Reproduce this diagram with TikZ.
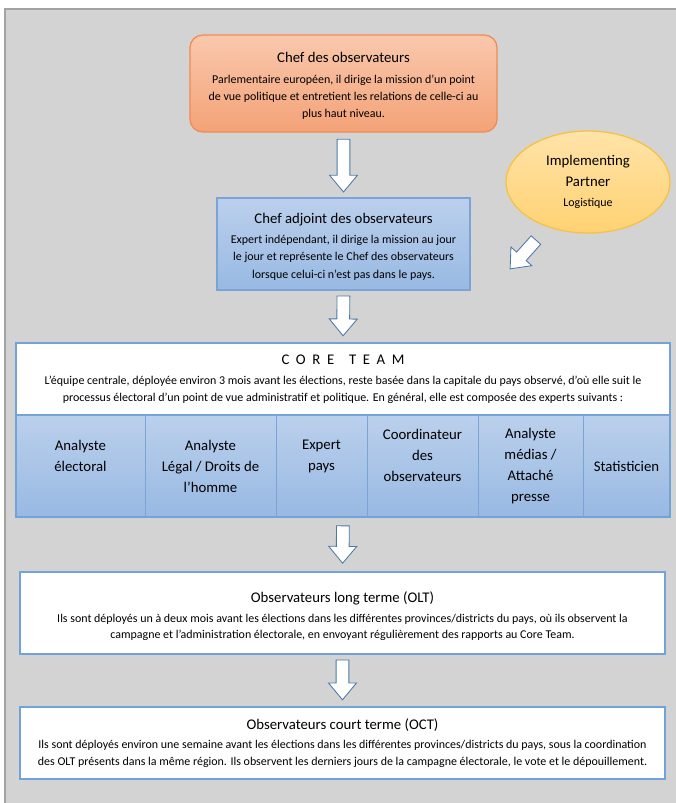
\documentclass[tikz,border=0pt]{standalone}
\usepackage{fontspec}
\setmainfont{Carlito}
\usetikzlibrary{
	shapes.geometric,
	positioning,
	calc
}
\definecolor{panelgray}{HTML}{D3D3D3}
\definecolor{paneledge}{HTML}{A3A3A3}
\definecolor{chefdraw}{HTML}{F08B53}
\definecolor{cheftop}{HTML}{F9C8AD}
\definecolor{chefbottom}{HTML}{F4A277}
\definecolor{bluedraw}{HTML}{7BA3D6}
\definecolor{bluetop}{HTML}{BBD0EC}
\definecolor{bluebottom}{HTML}{98B9E3}
\definecolor{partnerdraw}{HTML}{F5C243}
\definecolor{partnertop}{HTML}{FFE3A8}
\definecolor{partnerbottom}{HTML}{FFD273}
\definecolor{framedraw}{HTML}{6FA3DA}
\definecolor{arrowdraw}{HTML}{4A78A8}
% title line of a box, with an optional strut to push the text down
\newcommand{\boxtitle}[2][0pt]{{\fontsize{10.5}{13}\selectfont\rule{0pt}{#1}#2}\\[2.2pt]}
\newcommand{\bigline}[1]{{\fontsize{10.5}{15.5}\selectfont #1}}
\newcommand{\blockarrow}[4]{%
	\draw[block arrow] let \p1=($(#2)-(#1)$), \n1={atan2(\y1,\x1)}, \n2={veclen(\x1,\y1)} in
		[shift={(#1)}, rotate=\n1]
		(#3,-0.16cm) -- ({\n2-#4-0.42cm},-0.16cm) -- ({\n2-#4-0.42cm},-0.35cm)
		-- ({\n2-#4},0cm) -- ({\n2-#4-0.42cm},0.35cm) -- ({\n2-#4-0.42cm},0.16cm)
		-- (#3,0.16cm) -- cycle;
}
\tikzset{
	every node/.style={
		inner sep=0pt,
		outer sep=0pt,
		align=center,
		font=\fontsize{8.5}{12.2}\selectfont
	},
	chef box/.style={
		draw=chefdraw,
		line width=0.9pt,
		rounded corners=0.32cm,
		top color=cheftop,
		bottom color=chefbottom,
		minimum width=7.675cm,
		minimum height=2.425cm
	},
	blue box/.style={
		draw=bluedraw,
		line width=0.9pt,
		top color=bluetop,
		bottom color=bluebottom
	},
	white box/.style={
		draw=framedraw,
		line width=1pt,
		fill=white,
		minimum width=16.125cm,
		font=\fontsize{8.5}{11.6}\selectfont
	},
	cell/.style={
		blue box,
		line width=0.6pt,
		minimum height=2.55cm,
		font=\fontsize{10.5}{15}\selectfont
	},
	block arrow/.style={
		draw=arrowdraw,
		line width=0.6pt,
		fill=white
	}
}
\begin{document}
\begin{tikzpicture}[x=0.025cm, y=-0.025cm]
	\useasboundingbox (0,0) rectangle (676,803);
	\fill[panelgray] (5,9) rectangle (676,803);
	\draw[paneledge, line width=1.2pt] (5,803) -- (5,9) -- (676,9);

	%%%% mission
	\node[chef box] (chef) at (343.5,83.5) {\boxtitle[10.8pt]{Chef des observateurs}
		Parlementaire européen, il dirige la mission d’un point\\
		de vue politique et entretient les relations de celle-ci au\\
		plus haut niveau.};
	\node[blue box, minimum width=6.325cm, minimum height=2.3cm] (adjoint) at (343.5,244) {\boxtitle[11pt]{Chef adjoint des observateurs}
		Expert indépendant, il dirige la mission au jour\\
		le jour et représente le Chef des observateurs\\
		lorsque celui-ci n’est pas dans le pays.};
	\node[ellipse, draw=partnerdraw, line width=0.9pt, top color=partnertop, bottom color=partnerbottom,
		minimum width=4.1cm, minimum height=2.55cm] (partner) at (588,182) {\bigline{Implementing}\\[2.7pt] \bigline{Partner}\\[2pt] Logistique};
	\coordinate (ptip) at (510,269);

	%%%% core team
	\node[draw=framedraw, line width=1pt, fill=white, minimum width=16.35cm, minimum height=1.8cm] (core) at (343,379) {\boxtitle{\addfontfeature{LetterSpace=45}CORE\quad TEAM}
		L’équipe centrale, déployée environ 3 mois avant les élections, reste basée dans la capitale du pays observé, d’où elle suit le\\
		processus électoral d’un point de vue administratif et politique. En général, elle est composée des experts suivants :};
	\node[cell, minimum width=3.225cm, anchor=north west] (electoral) at (core.south west) {Analyste\\électoral\\\mbox{}};
	\node[cell, minimum width=3.275cm, right=0pt of electoral] (legal) {Analyste\\Légal / Droits de\\l’homme};
	\node[cell, minimum width=2.275cm, right=0pt of legal] (expert) {Expert\\pays\\\mbox{}};
	\node[cell, minimum width=2.775cm, right=0pt of expert] (coordinator) {Coordinateur\\des\\observateurs\\\mbox{}};
	\node[cell, minimum width=2.625cm, right=0pt of coordinator] (media) {Analyste\\médias /\\Attaché\\presse};
	\node[cell, minimum width=2.175cm, right=0pt of media] (statistician) {Statisticien};
	\draw[framedraw, line width=1pt] (core.north west) rectangle (statistician.south east);

	%%%% observateurs
	\node[white box, minimum height=2.05cm] (olt) at (342.5,613) {\boxtitle[12.6pt]{Observateurs long terme (OLT)}
		Ils sont déployés un à deux mois avant les élections dans les différentes provinces/districts du pays, où ils observent la\\
		campagne et l’administration électorale, en envoyant régulièrement des rapports au Core Team.};
	\node[white box, minimum height=1.8cm] (oct) at (342.5,743) {\boxtitle{Observateurs court terme (OCT)}
		Ils sont déployés environ une semaine avant les élections dans les différentes provinces/districts du pays, sous la coordination\\
		des OLT présents dans la même région. Ils observent les derniers jours de la campagne électorale, le vote et le dépouillement.};

	%%%% arrows
	\blockarrow{chef.south}{adjoint.north}{0.18cm}{0.15cm}
	\blockarrow{adjoint.south}{core.north}{0.15cm}{0.18cm}
	\blockarrow{legal.south -| core.south}{olt.north}{0.22cm}{0.22cm}
	\blockarrow{olt.south}{oct.north}{0.15cm}{0.18cm}
	\blockarrow{partner.center}{ptip}{1.95cm}{0cm}
\end{tikzpicture}
\end{document}
